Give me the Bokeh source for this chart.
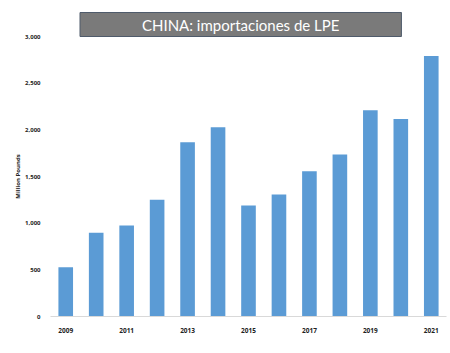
from bokeh.plotting import figure
from bokeh.models import Range1d, FixedTicker, NumeralTickFormatter
from bokeh.embed import file_html
from bokeh.resources import INLINE

years = [2009, 2010, 2011, 2012, 2013, 2014, 2015, 2016, 2017, 2018, 2019, 2020, 2021]
imports = [528, 896, 975, 1250, 1868, 2028, 1189, 1307, 1557, 1736, 2210, 2117, 2792]
year_ticks = [2009, 2011, 2013, 2015, 2017, 2019, 2021]
value_ticks = [0, 500, 1000, 1500, 2000, 2500, 3000]
title_text = "CHINA: importaciones de LPE"
y_label = "Million Pounds"

p = figure(width=450, height=353, output_backend="svg", toolbar_location=None,
           x_range=Range1d(2008.5, 2021.5), y_range=Range1d(0, 3000),
           min_border_left=50, min_border_right=4, min_border_top=36, min_border_bottom=37)
p.outline_line_color = None
p.background_fill_color = "white"
p.border_fill_color = "white"
p.xgrid.visible = False
p.ygrid.visible = False

p.vbar(x=years, top=imports, width=0.48, bottom=0, fill_color="#5B9BD5", line_color=None)

yax = p.yaxis[0]
yax.ticker = FixedTicker(ticks=value_ticks)
yax.formatter = NumeralTickFormatter(format="0,0")
yax.axis_line_color = None
yax.major_tick_line_color = None
yax.minor_tick_line_color = None
yax.major_label_text_font = "Open Sans"
yax.major_label_text_font_style = "bold"
yax.major_label_text_font_size = "6px"
yax.major_label_text_color = "#222222"
yax.major_label_standoff = 4
yax.axis_label = y_label
yax.axis_label_text_font = "Open Sans"
yax.axis_label_text_font_style = "bold"
yax.axis_label_text_font_size = "6px"
yax.axis_label_text_color = "#222222"
yax.axis_label_standoff = 0

xax = p.xaxis[0]
xax.ticker = FixedTicker(ticks=year_ticks)
xax.axis_line_color = "#d9d9d9"
xax.axis_line_width = 1
xax.major_tick_line_color = None
xax.minor_tick_line_color = None
xax.major_label_text_font = "Open Sans"
xax.major_label_text_font_style = "bold"
xax.major_label_text_font_size = "6.5px"
xax.major_label_text_color = "#222222"
xax.major_label_standoff = 5

t = p.title
t.text = title_text
t.text_font = "Lato"
t.text_font_style = "normal"
t.text_font_size = "15px"
t.text_color = "white"
t.align = "left"
t.offset = 29.5
t.standoff = 0
t.background_fill_color = "#7a7a7a"
t.border_line_color = "#4f5b6b"
t.border_line_width = 1
t.padding = (62, 3)

open("out.html", "w").write(file_html(p, INLINE))
